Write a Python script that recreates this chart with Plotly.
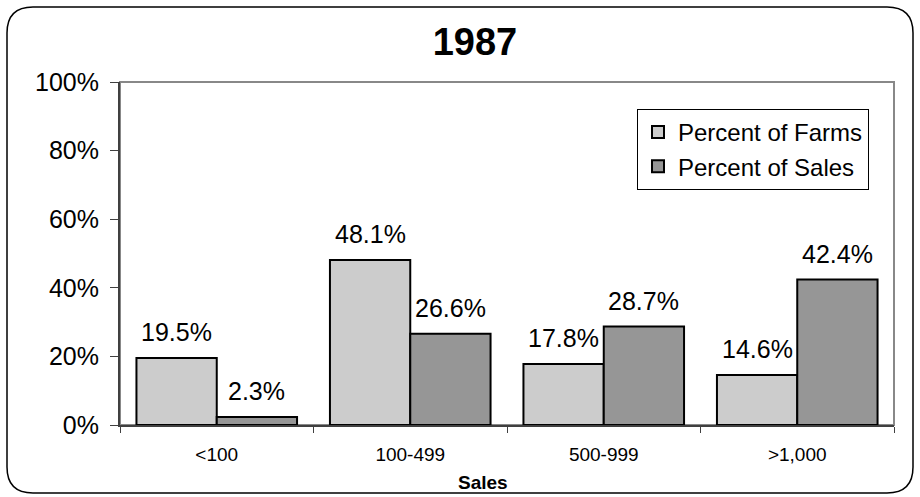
import plotly.graph_objects as go

# ── Data ─────────────────────────────────────────────
CATEGORIES = ["<100", "100-499", "500-999", ">1,000"]
FARMS_PCT = [19.5, 48.1, 17.8, 14.6]
SALES_PCT = [2.3, 26.6, 28.7, 42.4]
Y_TICKS = [0, 20, 40, 60, 80, 100]
Y_TICK_TEXT = ["0%", "20%", "40%", "60%", "80%", "100%"]

# ── Style ────────────────────────────────────────────
FONT = "Arial, Liberation Sans, sans-serif"
LIGHT = "#CCCCCC"
DARK = "#969696"
W, H = 920, 497
L, R, T, B = 120, 26, 82, 72
BARGAP = 0.17

plot_w = W - L - R
plot_h = H - T - B


def px_x(x):
    return (x - L) / plot_w


def px_y(y):
    return (H - B - y) / plot_h


fig = go.Figure()
fig.add_trace(go.Bar(x=CATEGORIES, y=FARMS_PCT, name="Percent of Farms",
                     marker=dict(color=LIGHT, line=dict(color="black", width=2))))
fig.add_trace(go.Bar(x=CATEGORIES, y=SALES_PCT, name="Percent of Sales",
                     marker=dict(color=DARK, line=dict(color="black", width=2))))

# value labels above each bar
half = plot_w / len(CATEGORIES) * (1 - BARGAP) / 4
for vals, sign in [(FARMS_PCT, -1), (SALES_PCT, 1)]:
    for cat, v in zip(CATEGORIES, vals):
        fig.add_annotation(x=cat, y=v, text=f"{v:.1f}%", showarrow=False,
                           xshift=sign * half, yshift=10, yanchor="bottom",
                           font=dict(size=25, color="black", family=FONT))

# x axis title
fig.add_annotation(xref="paper", yref="paper", x=px_x(483), y=px_y(482),
                   text="<b>Sales</b>", showarrow=False, yanchor="middle",
                   font=dict(size=19, color="black", family=FONT))

# rounded outer frame
x0, x1, y0, y1, r = 7, 913, 7, 493, 26
path = (f"M {px_x(x0 + r)} {px_y(y0)} L {px_x(x1 - r)} {px_y(y0)} "
        f"Q {px_x(x1)} {px_y(y0)} {px_x(x1)} {px_y(y0 + r)} "
        f"L {px_x(x1)} {px_y(y1 - r)} Q {px_x(x1)} {px_y(y1)} {px_x(x1 - r)} {px_y(y1)} "
        f"L {px_x(x0 + r)} {px_y(y1)} Q {px_x(x0)} {px_y(y1)} {px_x(x0)} {px_y(y1 - r)} "
        f"L {px_x(x0)} {px_y(y0 + r)} Q {px_x(x0)} {px_y(y0)} {px_x(x0 + r)} {px_y(y0)} Z")
fig.add_shape(type="path", path=path, xref="paper", yref="paper",
              line=dict(color="black", width=1.5))
# plot area border
fig.add_shape(type="rect", xref="paper", yref="paper", x0=0, x1=1, y0=0, y1=1,
              line=dict(color="#888888", width=2), layer="below")

fig.update_layout(
    width=W, height=H,
    margin=dict(l=L, r=R, t=T, b=B),
    paper_bgcolor="white", plot_bgcolor="white",
    font=dict(family=FONT, color="black"),
    barmode="group", bargap=BARGAP, bargroupgap=0,
    title=dict(text="<b>1987</b>", x=475 / W, xanchor="center",
               y=1 - 42 / H, yanchor="middle", yref="container",
               font=dict(size=38, color="black", family=FONT)),
    legend=dict(x=px_x(869), y=px_y(109), xanchor="right", yanchor="top",
                bgcolor="white", bordercolor="black", borderwidth=1,
                font=dict(size=24, color="black", family=FONT),
                itemwidth=30, tracegroupgap=0),
    xaxis=dict(showline=True, linecolor="#404040", linewidth=2,
               ticks="outside", tickson="boundaries", ticklen=6,
               tickcolor="#404040", tickwidth=1,
               tickfont=dict(size=19, color="black"),
               ticklabelstandoff=11, showgrid=False),
    yaxis=dict(range=[0, 100], tickvals=Y_TICKS, ticktext=Y_TICK_TEXT,
               showline=True, linecolor="#404040", linewidth=2,
               ticks="outside", ticklen=8, tickcolor="#404040", tickwidth=1,
               tickfont=dict(size=25, color="black"),
               ticklabelstandoff=6, showgrid=False, zeroline=False),
)

# drop the browser's default page margin so the figure sits at the window origin
fig.write_html("out.html", config={"displayModeBar": False},
               post_script="document.body.style.margin='0';")
